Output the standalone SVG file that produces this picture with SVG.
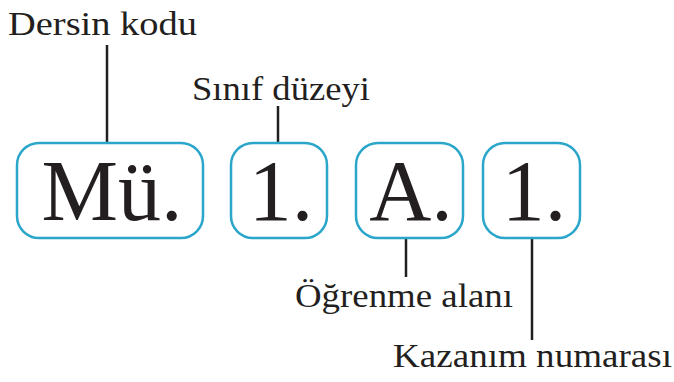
<svg xmlns="http://www.w3.org/2000/svg" width="674" height="382" viewBox="0 0 674 382">
<style>
.box{fill:#fff;stroke:#2ba6cb;stroke-width:2.5}
.code{font-size:86px;fill:#231f20;text-anchor:middle}
.lbl{font-size:33px;fill:#231f20}
.ln{stroke:#231f20;stroke-width:2.5;fill:none}
</style>
<rect width="674" height="382" fill="#fff"/>
<g id="connectors">
<line class="ln" x1="107" y1="45" x2="107" y2="143"/>
<line class="ln" x1="278" y1="106" x2="278" y2="143"/>
<line class="ln" x1="406" y1="238" x2="406" y2="277"/>
<line class="ln" x1="532" y1="238" x2="532" y2="340"/>
</g>
<g font-family="Liberation Serif, Times New Roman, serif">
<g id="box-mu">
<rect class="box" x="17" y="143" width="186" height="95" rx="22"/>
<text class="code" x="112" y="220">Mü.</text>
</g>
<g id="box-1a">
<rect class="box" x="231" y="143" width="96" height="95" rx="22"/>
<text class="code" x="281" y="220">1.</text>
</g>
<g id="box-a">
<rect class="box" x="356" y="143" width="107" height="95" rx="22"/>
<text class="code" x="411" y="220">A.</text>
</g>
<g id="box-1b">
<rect class="box" x="483" y="143" width="97" height="95" rx="22"/>
<text class="code" x="534" y="220">1.</text>
</g>
<g id="label-dersin">
<text class="lbl" x="8" y="35" textLength="189" lengthAdjust="spacingAndGlyphs">Dersin kodu</text>
</g>
<g id="label-sinif">
<text class="lbl" x="192" y="100" textLength="178" lengthAdjust="spacingAndGlyphs">Sınıf düzeyi</text>
</g>
<g id="label-ogrenme">
<text class="lbl" x="295" y="307" textLength="218" lengthAdjust="spacingAndGlyphs">Öğrenme alanı</text>
</g>
<g id="label-kazanim">
<text class="lbl" x="393" y="367" textLength="279" lengthAdjust="spacingAndGlyphs">Kazanım numarası</text>
</g>
</g>
</svg>
